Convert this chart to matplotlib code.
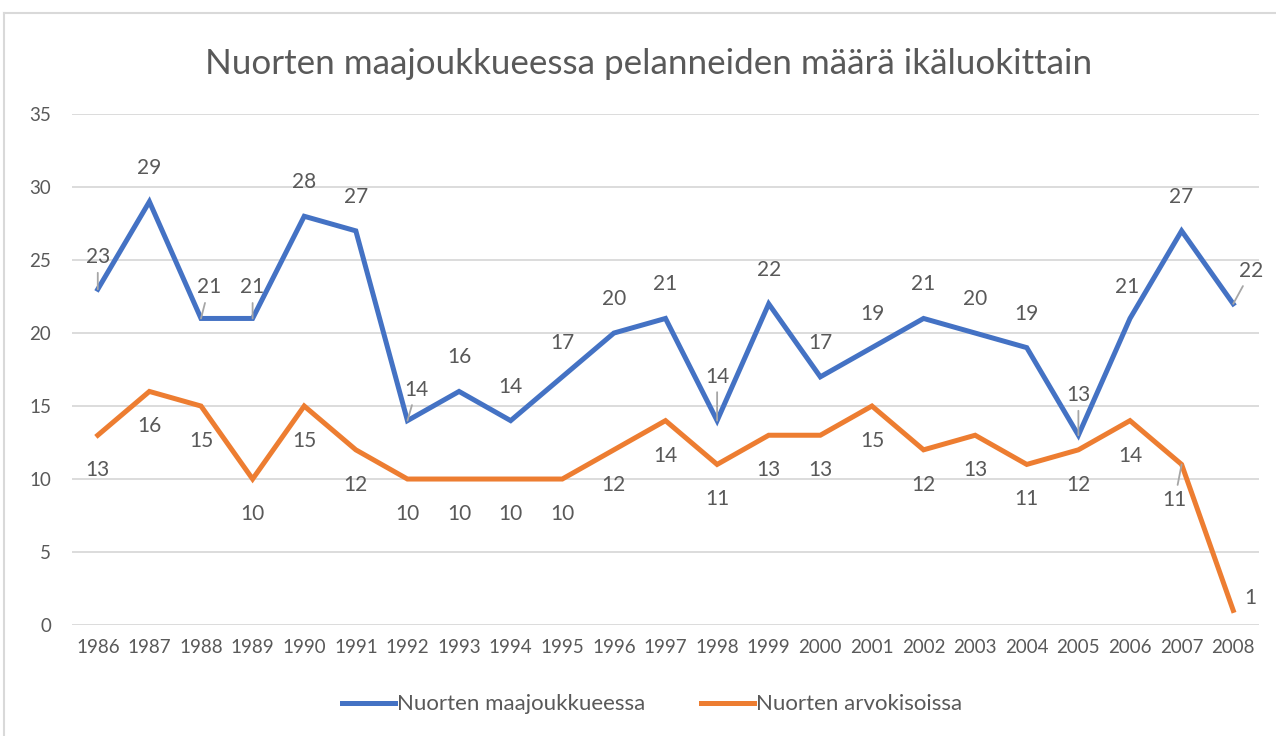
import matplotlib.pyplot as plt
from matplotlib.lines import Line2D

plt.rcParams['font.family'] = ['Lato', 'DejaVu Sans']

# Data
years = [str(y) for y in range(1986, 2009)]
maajoukkue = [23, 29, 21, 21, 28, 27, 14, 16, 14, 17, 20, 21, 14, 22, 17, 19, 21, 20, 19, 13, 21, 27, 22]
arvokisat = [13, 16, 15, 10, 15, 12, 10, 10, 10, 10, 12, 14, 11, 13, 13, 15, 12, 13, 11, 12, 14, 11, 1]

# label offsets in pixels (dx, dy), moved labels get a leader line
blue_off = {0: (0, 32), 2: (8, 31), 3: (0, 31), 6: (9, 31), 12: (0, 44), 19: (0, 40), 20: (-3, 31), 22: (18, 33)}
orange_off = {21: (-7, -36), 22: (17, 12)}
blue_leader = [0, 2, 3, 6, 12, 19, 22]
orange_leader = [21]

blue = '#4472C4'
orange = '#ED7D31'
txt = '#595959'

fig = plt.figure(figsize=(12.76, 7.36), dpi=100)
ax = fig.add_axes([0.0564, 0.1508, 0.9303, 0.6942])

x = list(range(len(years)))
ax.plot(x, maajoukkue, color=blue, lw=3.6, solid_joinstyle='miter', label='Nuorten maajoukkueessa', zorder=3)
ax.plot(x, arvokisat, color=orange, lw=3.6, solid_joinstyle='miter', label='Nuorten arvokisoissa', zorder=3)

def labels(vals, default, offsets, leaders):
    for i, v in enumerate(vals):
        dx, dy = offsets.get(i, default)
        kw = {}
        if i in leaders:
            kw['arrowprops'] = dict(arrowstyle='-', color='#a6a6a6', lw=1.3, shrinkA=2, shrinkB=0)
        ax.annotate(str(v), (i, v), xytext=(dx, dy), textcoords='offset pixels',
                    ha='center', va='center', fontsize=15, color=txt, zorder=4, **kw)

labels(maajoukkue, (0, 34), blue_off, blue_leader)
labels(arvokisat, (0, -35), orange_off, orange_leader)

ax.set_xlim(-0.5, len(years) - 0.5)
ax.set_ylim(0, 35)
ax.set_yticks(range(0, 36, 5))
ax.set_xticks(x)
ax.set_xticklabels(years)
ax.grid(axis='y', color='#d9d9d9', lw=1.3, zorder=0)
ax.set_axisbelow(True)
for s in ax.spines.values():
    s.set_visible(False)
ax.tick_params(axis='both', length=0, colors=txt, labelsize=13.5)
ax.tick_params(axis='y', pad=15)
ax.tick_params(axis='x', pad=10)

fig.suptitle('Nuorten maajoukkueessa pelanneiden määrä ikäluokittain', x=0.508, y=0.935,
             fontsize=25.2, color=txt)

fig.legend(loc='center', bbox_to_anchor=(0.511, 0.043), ncol=2, frameon=False,
           fontsize=16, labelcolor=txt, handlelength=2.4, handletextpad=0.1, columnspacing=2.5)

# chart border
fig.add_artist(Line2D([4 / 1276, 1], [1 - 13 / 736, 1 - 13 / 736], transform=fig.transFigure, color='#d9d9d9', lw=1.5))
fig.add_artist(Line2D([4 / 1276, 4 / 1276], [0, 1 - 13 / 736], transform=fig.transFigure, color='#d9d9d9', lw=1.5))

plt.savefig('out.png', dpi=100)
